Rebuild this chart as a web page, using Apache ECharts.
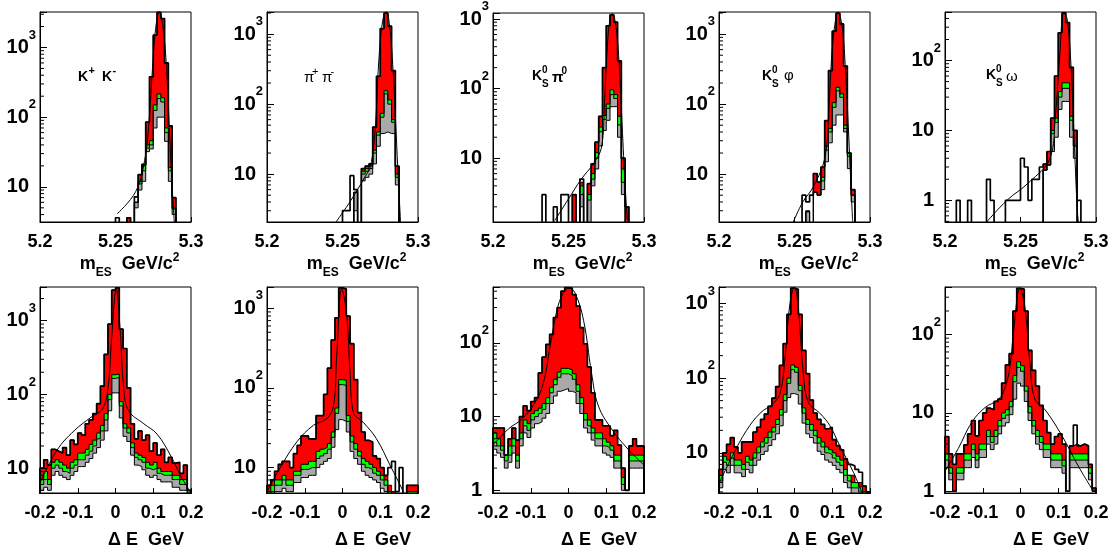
<!DOCTYPE html>
<html><head><meta charset="utf-8">
<script src="https://cdn.jsdelivr.net/npm/echarts@6/dist/echarts.min.js"></script>
<style>html,body{margin:0;padding:0;background:#fff}#c{width:1117px;height:550px}</style>
</head><body><div id="c"></div>
<script>
// ---------------- data ----------------
const mesRange = [5.2, 5.3];
const deRange = [-0.2, 0.2];
const mesTickLabels = [5.2, 5.25, 5.3];
const deTickLabels = [-0.2, -0.1, 0, 0.1, 0.2];
const nBins = 40;

// mES panels (40 bins of 2.5 MeV from 5.20 to 5.30)
const kk_mes_tot = [0,0,0,0,0,0,0,0,0,0,0,0,0,0,0,0,0,0,0,0, 0,0,0,3.6,0,6,15,21,85,380, 1500,3200,2600,600,75,7,0,0,0,0];
const kk_mes_grn = [0,0,0,0,0,0,0,0,0,0,0,0,0,0,0,0,0,0,0,0, 0,0,0,0,0,6,12,20,40,46, 150,215,190,70,19,5,0,0,0,0];
const kk_mes_gry = [0,0,0,0,0,0,0,0,0,0,0,0,0,0,0,0,0,0,0,0, 0,0,0,0,0,6,11,17,36,40, 125,185,165,60,17,4.8,0,0,0,0];
const kk_mes_wht = [0,0,0,0,0,0,0,0,0,0,0,0,0,0,0,0,0,0,0,0, 0,0,0,0,0,5,9,12,32,35, 70,100,100,45,12,4,0,0,0,0];
const kk_mes_dat = [0,0,0,0,0,0,0,0,0,0,0,0,0,0,0,0,0,0,0,0, 3.6,0,0,3.6,0,7.2,15,21,85,380, 1500,3200,2600,600,75,7,0,0,0,0];
const kk_mes_fit = [[5.2511,4.1],[5.2633,8.5],[5.2693,24],[5.2722,87],[5.2745,500],[5.2765,1800],[5.279,3300],[5.2815,1900],[5.2838,500],[5.2858,60],[5.2875,10],[5.289,3]];

const pp_mes_tot = [0,0,0,0,0,0,0,0,0,0,0,0,0,0,0,0,0,0,0,0, 0,0,0,5.5,0,12,13,14,47,250, 1200,2000,1300,300,13,0,0,0,0,0];
const pp_mes_grn = [0,0,0,0,0,0,0,0,0,0,0,0,0,0,0,0,0,0,0,0, 0,0,0,5.5,0,11,12,13,22,40, 74,155,115,60,10,0,0,0,0,0];
const pp_mes_gry = [0,0,0,0,0,0,0,0,0,0,0,0,0,0,0,0,0,0,0,0, 0,0,0,5.5,0,10,11,12,20,36, 65,140,100,55,9,0,0,0,0,0];
const pp_mes_wht = [0,0,0,0,0,0,0,0,0,0,0,0,0,0,0,0,0,0,0,0, 0,0,0,3,0,8,9,10,14,25, 38,40,38,38,7,0,0,0,0,0];
const pp_mes_dat = [0,0,0,0,0,0,0,0,0,0,0,0,0,0,0,0,0,0,0,0, 3,3,9.5,6,0,12,13,14,47,250, 1200,2000,1300,300,13,0,0,0,0,0];
const pp_mes_fit = [[5.2457,2.07],[5.2555,4.2],[5.2648,9.1],[5.2685,13],[5.2715,40],[5.274,400],[5.2765,1500],[5.279,2100],[5.2812,1300],[5.2835,300],[5.2855,40],[5.287,8],[5.2885,2]];

const kspi0_mes_tot = [0,0,0,0,0,0,0,0,0,0, 0,0,0,0,0,0,0,0,0,0, 0,3,0,4.5,0,4.3,8.3,17,40,200, 800,1150,900,250,10,2,0,0,0,0];
const kspi0_mes_grn = [0,0,0,0,0,0,0,0,0,0, 0,0,0,0,0,0,0,0,0,0, 0,0,0,4,0,3,6,12,28,41, 60,96,82,40,7,0,0,0,0,0];
const kspi0_mes_gry = [0,0,0,0,0,0,0,0,0,0, 0,0,0,0,0,0,0,0,0,0, 0,0,0,3,0,2.5,5,10,24,36, 52,82,72,30,4.5,0,0,0,0,0];
const kspi0_mes_wht = [0,0,0,0,0,0,0,0,0,0, 0,0,0,0,0,0,0,0,0,0, 0,0,0,2,0,0,4,7,15,25, 35,55,55,20,3,0,0,0,0,0];
const kspi0_mes_dat = [0,0,0,0,0,0,0,0,0,0, 0,0,0,3,0,0,2,0,3,3, 0,3,0,5,0,4.3,8.3,17,40,200, 800,1150,900,250,10,2,0,0,0,0];
const kspi0_mes_fit = [[5.2409,1.27],[5.25,2.6],[5.2585,5],[5.2664,8.3],[5.2719,14.5],[5.2738,60],[5.2757,400],[5.2775,1000],[5.279,1200],[5.281,900],[5.2832,300],[5.2855,30],[5.2875,4],[5.289,1.3]];

const ksphi_mes_tot = [0,0,0,0,0,0,0,0,0,0, 0,0,0,0,0,0,0,0,0,0, 0,0,0,3,0,10.2,7.7,12.6,58,300, 1100,2000,1400,350,20,6,0,0,0,0];
const ksphi_mes_grn = [0,0,0,0,0,0,0,0,0,0, 0,0,0,0,0,0,0,0,0,0, 0,0,0,2.9,0,5.5,5,9,25,45, 105,174,140,50,20,5,0,0,0,0];
const ksphi_mes_gry = [0,0,0,0,0,0,0,0,0,0, 0,0,0,0,0,0,0,0,0,0, 0,0,0,2.9,0,5.5,5,8,22,40, 90,155,125,45,18,5,0,0,0,0];
const ksphi_mes_wht = [0,0,0,0,0,0,0,0,0,0, 0,0,0,0,0,0,0,0,0,0, 0,0,0,0,0,5.5,5,6,15,28, 50,70,70,40,12,4,0,0,0,0];
const ksphi_mes_dat = [0,0,0,0,0,0,0,0,0,0, 0,0,0,0,0,0,0,0,0,0, 0,0,5,4,5,10.2,7.7,12.6,58,300, 1100,2000,1400,350,20,6,0,0,0,0];
const ksphi_mes_fit = [[5.2492,2.07],[5.2555,4.0],[5.2625,6.6],[5.2702,17.7],[5.2728,90],[5.2755,800],[5.279,2050],[5.2815,1300],[5.2838,300],[5.2858,40],[5.2875,6],[5.2885,2.1]];

const ksom_mes_tot = [0,0,0,0,0,0,0,0,0,0, 0,0,0,0,0,0,0,0,0,0, 0,0,0,0,0,0,3.3,5,15,60, 250,480,350,80,10,0,0,0,0,0];
const ksom_mes_grn = [0,0,0,0,0,0,0,0,0,0, 0,0,0,0,0,0,0,0,0,0, 0,0,0,0,0,0,2.7,3.2,10,15, 36,48,48,16,6,0,0,0,0,0];
const ksom_mes_gry = [0,0,0,0,0,0,0,0,0,0, 0,0,0,0,0,0,0,0,0,0, 0,0,0,0,0,0,2.7,3.2,9,13, 30,40,40,14,6,0,0,0,0,0];
const ksom_mes_wht = [0,0,0,0,0,0,0,0,0,0, 0,0,0,0,0,0,0,0,0,0, 0,0,0,0,0,0,2.7,3.2,5,8, 20,26,26,8,4,0,0,0,0,0];
const ksom_mes_dat = [0,0,0,1,0,0,1,0,0,0, 0,2,1,0,0,0,1,1,1,1, 4,3,1,2,2,3,3.3,5,15,60, 250,480,350,80,10,1,0,0,0,0];
const ksom_mes_fit = [[5.2276,0.49],[5.241,1.0],[5.2555,1.8],[5.2695,4],[5.273,15],[5.276,120],[5.2787,480],[5.281,380],[5.2835,80],[5.2855,8],[5.2875,0.8],[5.2885,0.45]];

// Delta E panels (40 bins of 10 MeV from -0.2 to 0.2)
const kk_de_tot = [10,13,11,18,17,16,19,15,24,21, 30,28,40,45,55,75,130,350,900,2600, 2800,770,420,123,40,25,32,24,28,17, 22,15,18,12,14,11.7,12,8.5,11,5];
const kk_de_grn = [7,9,7,12,13,12,11,10,12,13, 16,16,18,21,24,30,38,55,100,185, 190,80,40,35,22,16,15,14,12,11, 12,10,9,9,9,8,8,7,7,5];
const kk_de_gry = [6,7,6,10,11,10,9,8.5,10,11, 13,13,15,17,20,25,32,45,85,165, 170,70,35,30,19,14,13,12,10,9.5, 10,8.5,8,8,8,7,7,6,6,4.6];
const kk_de_wht = [5,5.5,5,8,9,8,7.5,7,8,9, 10.5,10.5,12,13.5,16,19,24,32,60,105, 105,48,27,23,15,11,10.5,9.5,8,7.5, 8,7,6.5,6.5,6.5,5.5,5.5,5,5,3.8];
const kk_de_dat = [10,13,11,18,17,16,19,15,24,21, 30,28,40,45,55,75,130,350,900,2600, 2800,770,420,123,40,25,32,24,28,17, 22,15,18,12,14,11.7,12,8.5,11,5];
const kk_de_fit = [[-0.2,6.3],[-0.155,17.5],[-0.11,32],[-0.065,49],[-0.035,63],[-0.02,120],[-0.01,600],[0.002,2700],[0.012,800],[0.022,120],[0.035,60],[0.075,40],[0.11,29],[0.147,14.5],[0.173,7.8],[0.198,4.8]];

const pp_de_tot = [6,7,9,11,12,12,10,15,19,25, 25,23,23,45,45,83,177,400,760,1800, 1750,800,360,127,49,28,22,21,14,13, 10,8,6,5,4,3,0,6,6,6];
const pp_de_grn = [5,6,7,7,8,7,7,9,9,11, 11,12,12,16,17,18,20,28,56,127, 125,45,25,20,16,13,12,11,10,9, 8,7,5,4,4,3,0,5,5,5];
const pp_de_gry = [4.5,5,6,6,7,6,6,8,8,9.5, 9.5,10,10,13,14,15,17,24,48,110, 108,38,21,17,14,11,10,9.5,8.5,8, 7,6,4.5,3.5,3.5,2.5,0,4.5,4.5,4.5];
const pp_de_wht = [3.6,4,5,5,5.5,5,5,6.5,6.5,7.5, 7.5,8,8,10,11,12,13,18,30,40, 38,28,16,13,11,9,8,7.5,7,6.5, 5.5,5,3.6,2.8,2.8,2,0,3.6,3.6,3.6];
const pp_de_dat = [6,7,9,11,12,12,10,15,19,25, 25,23,23,45,45,83,177,400,760,1800, 1750,800,360,127,49,28,22,21,14,13, 10,8,10,12,5,10,0,6,6,6];
const pp_de_fit = [[-0.2,5],[-0.166,9.8],[-0.121,21],[-0.077,34],[-0.042,41],[-0.024,59],[-0.0155,245],[-0.002,1750],[0.011,840],[0.02,155],[0.029,49],[0.055,37],[0.09,23],[0.126,10.7],[0.161,5],[0.18,3]];

const kspi0_de_tot = [7,7,7,3,5,7,4.8,10,14,12, 16,18,39,64,95,130,220,300,500,560, 550,450,315,160,97,47,21,9,9,7.5, 7.5,5.5,6.5,4.1,2,1,4,5,4,4];
const kspi0_de_grn = [6,5,4,3,4,5,3,6,9,8, 11,12,13,15,18,25,32,40,45,45, 43,38,27,18,11,9,7,6,6,5, 4.5,4,3,3,1.5,1,3,3,3,3];
const kspi0_de_gry = [4.5,4,3.5,2.5,3,4,2.5,5,7.5,6.5, 9,10,11,12.5,15,21,27,34,38,38, 36,32,22,15,9,7.5,6,5,5,4, 3.8,3.5,2.5,2.5,1.2,1,2.5,2.5,2.5,2.5];
const kspi0_de_wht = [3.6,3.2,2.8,2,2.4,3.2,2,4,6,5.2, 7,8,8.5,9.5,11,15,19,22,23,24, 22,21,15,11,7,6,4.8,4,4,3.2, 3,2.8,2,2,1,1,2,2,2,2];
const kspi0_de_dat = [7,7,7,3,5,7,4.8,10,14,12, 16,18,39,64,95,130,220,300,500,560, 550,450,315,160,97,47,21,9,9,7.5, 7.5,5.5,6.5,4.1,2,1,4,5,4,4];
const kspi0_de_fit = [[-0.2,4.1],[-0.159,6.8],[-0.124,9.2],[-0.089,15.4],[-0.067,28],[-0.049,88],[-0.031,270],[-0.014,475],[0.001,550],[0.017,475],[0.04,200],[0.061,39],[0.079,14],[0.114,6.8],[0.158,3.6],[0.2,2.2]];

const ksphi_de_tot = [6,10,13,16,12,10,14,14,14,19, 22,28,33,42,54,77,148,290,715,1600, 1550,715,235,115,51,34,28,24,21,22, 15,12.5,11,8.3,5,5,4,4,3.6,3];
const ksphi_de_grn = [5,9,8,10,8,8,7,9,8,10, 12,14,16,19,22,28,38,60,100,150, 140,80,40,28,24,20,16,14,12,11, 10,9,8,6,5,4,4,3.5,3,3];
const ksphi_de_gry = [4.2,7.5,6.8,8.5,6.8,6.8,6,7.5,6.8,8.5, 10,12,13.5,16,19,24,32,50,85,130, 120,68,34,24,20,17,13.5,12,10,9.5, 8.5,7.5,6.8,5,4.2,3.4,3.4,3,2.5,2.5];
const ksphi_de_wht = [3.4,6,5.4,6.8,5.4,5.4,4.8,6,5.4,6.8, 8,9.5,10.5,12.5,15,18,23,35,55,62, 60,45,25,18,16,13.5,10.5,9.5,8,7.5, 6.8,6,5.4,4,3.4,2.7,2.7,2.4,2,2];
const ksphi_de_dat = [6,10,13,16,12,10,14,14,14,19, 22,28,33,42,54,77,148,290,715,1600, 1550,715,235,115,51,34,28,24,21,22, 15,12.5,11,8.3,7,6.7,6,5.5,3.6,3];
const ksphi_de_fit = [[-0.2,3.9],[-0.162,9.6],[-0.127,20],[-0.091,34],[-0.056,46],[-0.038,63],[-0.025,190],[-0.012,1000],[0,1650],[0.01,880],[0.0234,115],[0.037,47],[0.067,34],[0.094,23],[0.12,12.4],[0.156,5.5],[0.178,3]];

const ksom_de_tot = [5,3,2.2,3,3,3.9,5.4,8,5.1,8, 10,11.5,11,14,15,24,41,57,200,390, 380,200,63,35,22,12.5,8,5.6,4,5, 5.4,4,1,3.8,4,3.8,4,3.8,2.2,1.1];
const ksom_de_grn = [3,2,1,2,2,3,3,4,3,4, 4,6,5,6,8,10,11,14,30,45, 40,22,12,8,6,5,4,4,3,3, 3,2.5,1,3,3,3,3,3,2,1];
const ksom_de_gry = [2.5,1.7,1,1.7,1.7,2.5,2.5,3.4,2.5,3.4, 3.4,5,4.2,5,6.8,8.5,9.4,12,25,38, 34,19,10,6.8,5,4.2,3.4,3.4,2.5,2.5, 2.5,2.1,1,2.5,2.5,2.5,2.5,2.5,1.7,1];
const ksom_de_wht = [2,1.4,1,1.4,1.4,2,2,2.7,2,2.7, 2.7,4,3.4,4,5.4,6.8,7.5,9.5,15,24, 22,14,8,5.4,4,3.4,2.7,2.7,2,2, 2,1.7,1,2,2,2,2,2,1.4,1];
const ksom_de_dat = [5,3,2.2,3,3,3.9,5.4,8,5.1,8, 10,11.5,11,14,15,24,41,57,200,390, 380,200,63,35,22,12.5,8,5.6,4,5, 5.4,4,1,3.8,7,3.8,4,3.8,2.2,1.1];
const ksom_de_fit = [[-0.2,1.8],[-0.165,3.5],[-0.129,7.6],[-0.094,11.7],[-0.059,14.8],[-0.041,21],[-0.028,39],[-0.019,102],[-0.0014,390],[0.012,220],[0.025,43],[0.038,15],[0.065,11],[0.109,5.2],[0.153,2.1],[0.193,1]];

// y ranges (log axis) per panel
const yRanges = [[3.13,3230],[2.07,2070],[1.21,1218],[2.07,2070],[0.49,495],
                 [4.6,2870],[4.8,1850],[0.92,570],[2.9,1660],[0.95,405]];

// ---------------- chart ----------------
const FONT = 'Liberation Sans';
const FLOOR = 1e-3;
const COLORS = {tot:'#ff0000', grn:'#00ff00', gry:'#a9a9a9', wht:'#ffffff'};

function edgesOf(range) {
  const e = [];
  const w = (range[1] - range[0]) / nBins;
  for (let i = 0; i <= nBins; i++) e.push(+(range[0] + w * i).toFixed(6));
  return e;
}
const mesEdges = edgesOf(mesRange), deEdges = edgesOf(deRange);

const panels = [
  {t:kk_mes_tot,g:kk_mes_grn,y:kk_mes_gry,w:kk_mes_wht,d:kk_mes_dat,f:kk_mes_fit},
  {t:pp_mes_tot,g:pp_mes_grn,y:pp_mes_gry,w:pp_mes_wht,d:pp_mes_dat,f:pp_mes_fit},
  {t:kspi0_mes_tot,g:kspi0_mes_grn,y:kspi0_mes_gry,w:kspi0_mes_wht,d:kspi0_mes_dat,f:kspi0_mes_fit},
  {t:ksphi_mes_tot,g:ksphi_mes_grn,y:ksphi_mes_gry,w:ksphi_mes_wht,d:ksphi_mes_dat,f:ksphi_mes_fit},
  {t:ksom_mes_tot,g:ksom_mes_grn,y:ksom_mes_gry,w:ksom_mes_wht,d:ksom_mes_dat,f:ksom_mes_fit},
  {t:kk_de_tot,g:kk_de_grn,y:kk_de_gry,w:kk_de_wht,d:kk_de_dat,f:kk_de_fit},
  {t:pp_de_tot,g:pp_de_grn,y:pp_de_gry,w:pp_de_wht,d:pp_de_dat,f:pp_de_fit},
  {t:kspi0_de_tot,g:kspi0_de_grn,y:kspi0_de_gry,w:kspi0_de_wht,d:kspi0_de_dat,f:kspi0_de_fit},
  {t:ksphi_de_tot,g:ksphi_de_grn,y:ksphi_de_gry,w:ksphi_de_wht,d:ksphi_de_dat,f:ksphi_de_fit},
  {t:ksom_de_tot,g:ksom_de_grn,y:ksom_de_gry,w:ksom_de_wht,d:ksom_de_dat,f:ksom_de_fit}
];

const gridLefts = [40, 267, 493, 719, 945];
const gridTops = [12, 287];
const GW = 151, GH = 210;

function hist(edges, vals) {
  const pts = [[edges[0], FLOOR]];
  for (let i = 0; i < vals.length; i++) pts.push([edges[i], vals[i] > 0 ? vals[i] : FLOOR]);
  pts.push([edges[vals.length], FLOOR]);
  return pts;
}

function yFmt(v) {
  const l = Math.log10(v), n = Math.round(l);
  if (Math.abs(l - n) > 1e-6) return '';
  if (n === 0) return '{b|1}{p| }';
  if (n === 1) return '{b|10}{p| }';
  return '{b|10}{s|' + n + '}';
}

const grids = [], xAxes = [], yAxes = [], series = [];
panels.forEach((p, k) => {
  const row = k < 5 ? 0 : 1, col = k % 5;
  const isMes = row === 0;
  const edges = isMes ? mesEdges : deEdges;
  const xr = isMes ? mesRange : deRange;
  const ticks = isMes ? mesTickLabels : deTickLabels;
  const yr = yRanges[k];
  grids.push({left: gridLefts[col], top: gridTops[row], width: GW, height: GH,
    show: true, borderColor: '#000', borderWidth: 1, backgroundColor: 'transparent', z: 10});
  xAxes.push({
    gridIndex: k, type: 'value', min: xr[0], max: xr[1], interval: ticks[1] - ticks[0], z: 10,
    axisLine: {show: true, onZero: false, lineStyle: {color: '#000', width: 1}},
    axisTick: {show: true, inside: true, length: 5, lineStyle: {color: '#000'}},
    splitLine: {show: false},
    axisLabel: {color: '#000', fontFamily: FONT, fontWeight: 'bold', fontSize: 18, margin: 11, hideOverlap: false,
      formatter: v => String(+v.toFixed(3))},
    name: isMes ? '{b|m}{sub|ES}{b|  GeV/c}{sup|2}' : '{b|Δ E  GeV}',
    nameLocation: 'middle', nameGap: isMes ? 27 : 38, nameMoveOverlap: false,
    nameTextStyle: {
      color: '#000', fontFamily: FONT, fontWeight: 'bold', fontSize: 18,
      padding: isMes ? [0, 0, 0, 28] : [0, 0, 0, 61],
      rich: {
        b: {fontFamily: FONT, fontWeight: 'bold', fontSize: 18, color: '#000'},
        sub: {fontFamily: FONT, fontWeight: 'bold', fontSize: 12, color: '#000', padding: [18, 0, 0, 0]},
        sup: {fontFamily: FONT, fontWeight: 'bold', fontSize: 12, color: '#000', padding: [0, 0, 12, 0]}
      }
    }
  });
  yAxes.push({
    gridIndex: k, type: 'log', logBase: 10, min: yr[0], max: yr[1], z: 10,
    axisLine: {show: true, onZero: false, lineStyle: {color: '#000', width: 1}},
    axisTick: {show: true, inside: true, length: 7, lineStyle: {color: '#000'}},
    splitLine: {show: false}, minorTick: {show: false}, minorSplitLine: {show: false},
    axisLabel: {color: '#000', margin: 4, hideOverlap: false, showMinLabel: true, showMaxLabel: true,
      formatter: yFmt,
      rich: {
        b: {fontFamily: FONT, fontWeight: 'bold', fontSize: 20, color: '#000'},
        s: {fontFamily: FONT, fontWeight: 'bold', fontSize: 13, color: '#000', padding: [0, 0, 25, 0]},
        p: {fontSize: 8, width: 7}
      }
    }
  });
  const base = {type: 'line', xAxisIndex: k, yAxisIndex: k, step: 'end', symbol: 'none',
    silent: true, animation: false, clip: true};
  [['t', 'tot'], ['g', 'grn'], ['y', 'gry'], ['w', 'wht']].forEach(([key, c]) => {
    series.push(Object.assign({}, base, {
      data: hist(edges, p[key]),
      lineStyle: {color: '#000', width: 1},
      areaStyle: {color: COLORS[c], opacity: 1, origin: 'start'}
    }));
  });
  series.push(Object.assign({}, base, {data: hist(edges, p.d), lineStyle: {color: '#000', width: 1.7}}));
  series.push({type: 'line', xAxisIndex: k, yAxisIndex: k, data: p.f, smooth: 0.4, symbol: 'none',
    silent: true, animation: false, clip: true, lineStyle: {color: '#000', width: 1}});
  // minor ticks on the log y axis (2..9 x 10^n)
  const minor = [];
  for (let d = Math.floor(Math.log10(yr[0])); d <= Math.ceil(Math.log10(yr[1])); d++) {
    for (let m = 2; m <= 9; m++) {
      const v = m * Math.pow(10, d);
      if (v > yr[0] && v < yr[1]) minor.push([xr[0], v]);
    }
  }
  series.push({type: 'custom', xAxisIndex: k, yAxisIndex: k, data: minor, silent: true, animation: false, z: 11,
    renderItem: (params, api) => {
      const pt = api.coord([api.value(0), api.value(1)]);
      return {type: 'line', shape: {x1: pt[0], y1: pt[1], x2: pt[0] + 4, y2: pt[1]},
        style: {stroke: '#000', lineWidth: 1}};
    }});
});

// channel labels
const labelParts = [
  [['K',78,77,14,'bold'],['+',88.5,71,11,'bold'],['K',102,77,14,'bold'],['-',112.5,71,11,'bold']],
  [['π',304,78,15],['+',312,71.5,11],['π',322,78,15],['-',330.5,71.5,11]],
  [['K',532,76,14,'bold'],['0',542,70.5,10,'bold'],['S',542,84,10,'bold'],['π',552,78,15,'bold'],['0',561.5,71.5,10,'bold']],
  [['K',762,76,14,'bold'],['0',772,70.5,10,'bold'],['S',772,84,10,'bold'],['φ',784,76,15]],
  [['K',986,75,14,'bold'],['0',996,69.5,10,'bold'],['S',996,83,10,'bold'],['ω',1006,77,15]]
];
const graphic = [];
labelParts.forEach(parts => parts.forEach(([t, x, y, s, w]) => {
  graphic.push({type: 'text', x: x, y: y, z: 20, silent: true,
    style: {text: t, fontFamily: FONT, fontSize: s, fontWeight: w || 'normal', fill: '#000',
      align: 'left', verticalAlign: 'middle'}});
}));

const chart = echarts.init(document.getElementById('c'), null, {renderer: 'canvas'});
chart.setOption({
  animation: false,
  backgroundColor: '#fff',
  grid: grids, xAxis: xAxes, yAxis: yAxes, series: series, graphic: graphic
});
</script>
</body></html>
